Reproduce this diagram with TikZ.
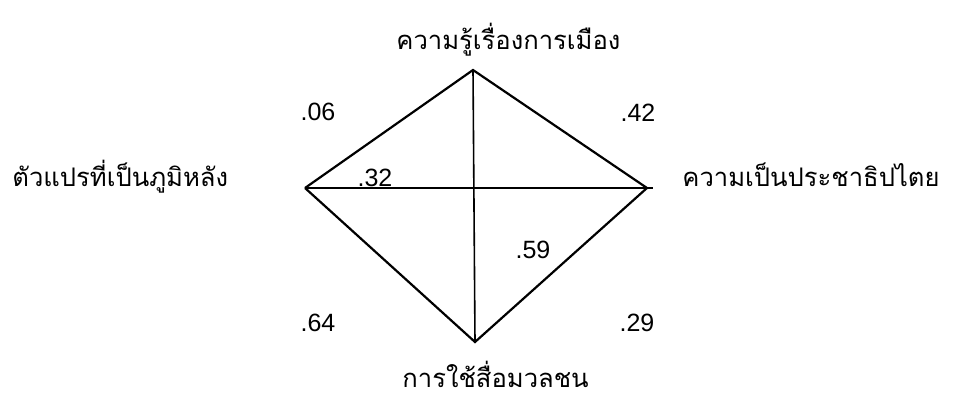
\documentclass[tikz,border=0pt]{standalone}
\usepackage{fontspec}
\setmainfont{Liberation Sans}
\newfontfamily\thaifont[Script=Thai]{Loma}
\begin{document}
\begin{tikzpicture}[x=0.5pt,y=-0.5pt]
	\tikzset{edge/.style={line width=1.1pt}, cross/.style={line width=0.8pt},
		thlabel/.style={font=\thaifont\fontsize{12.8}{15}\selectfont, inner sep=0pt},
		coef/.style={font=\fontsize{12.5}{14}\selectfont, inner sep=0pt}}
	\useasboundingbox (0,0) rectangle (958,400);
	\coordinate (top) at (473,70);
	\coordinate (bottom) at (475,342);
	\coordinate (left) at (305,188);
	\coordinate (right) at (647,188);
	\coordinate (rightend) at (653,188);
	\draw[edge] (left) -- (top) -- (right) -- (bottom) -- (left);
	\draw[cross] (left) -- (rightend);
	\draw[cross] (top) -- (bottom);
	\node[thlabel, anchor=base west] (knowledge) at (396,50) {ความรู้เรื่องการเมือง};
	\node[thlabel, anchor=base west] (media) at (402,388) {การใช้สื่อมวลชน};
	\node[thlabel, anchor=base west] (background) at (12,187) {ตัวแปรที่เป็นภูมิหลัง};
	\node[thlabel, anchor=base west] (democracy) at (682,187) {ความเป็นประชาธิปไตย};
	\node[coef] (c06) at (318,112) {.06};
	\node[coef] (c42) at (638,113) {.42};
	\node[coef, anchor=base] (c32) at (375,187) {.32};
	\node[coef] (c59) at (533,250) {.59};
	\node[coef] (c64) at (318,323) {.64};
	\node[coef] (c29) at (637,323) {.29};
\end{tikzpicture}
\end{document}
